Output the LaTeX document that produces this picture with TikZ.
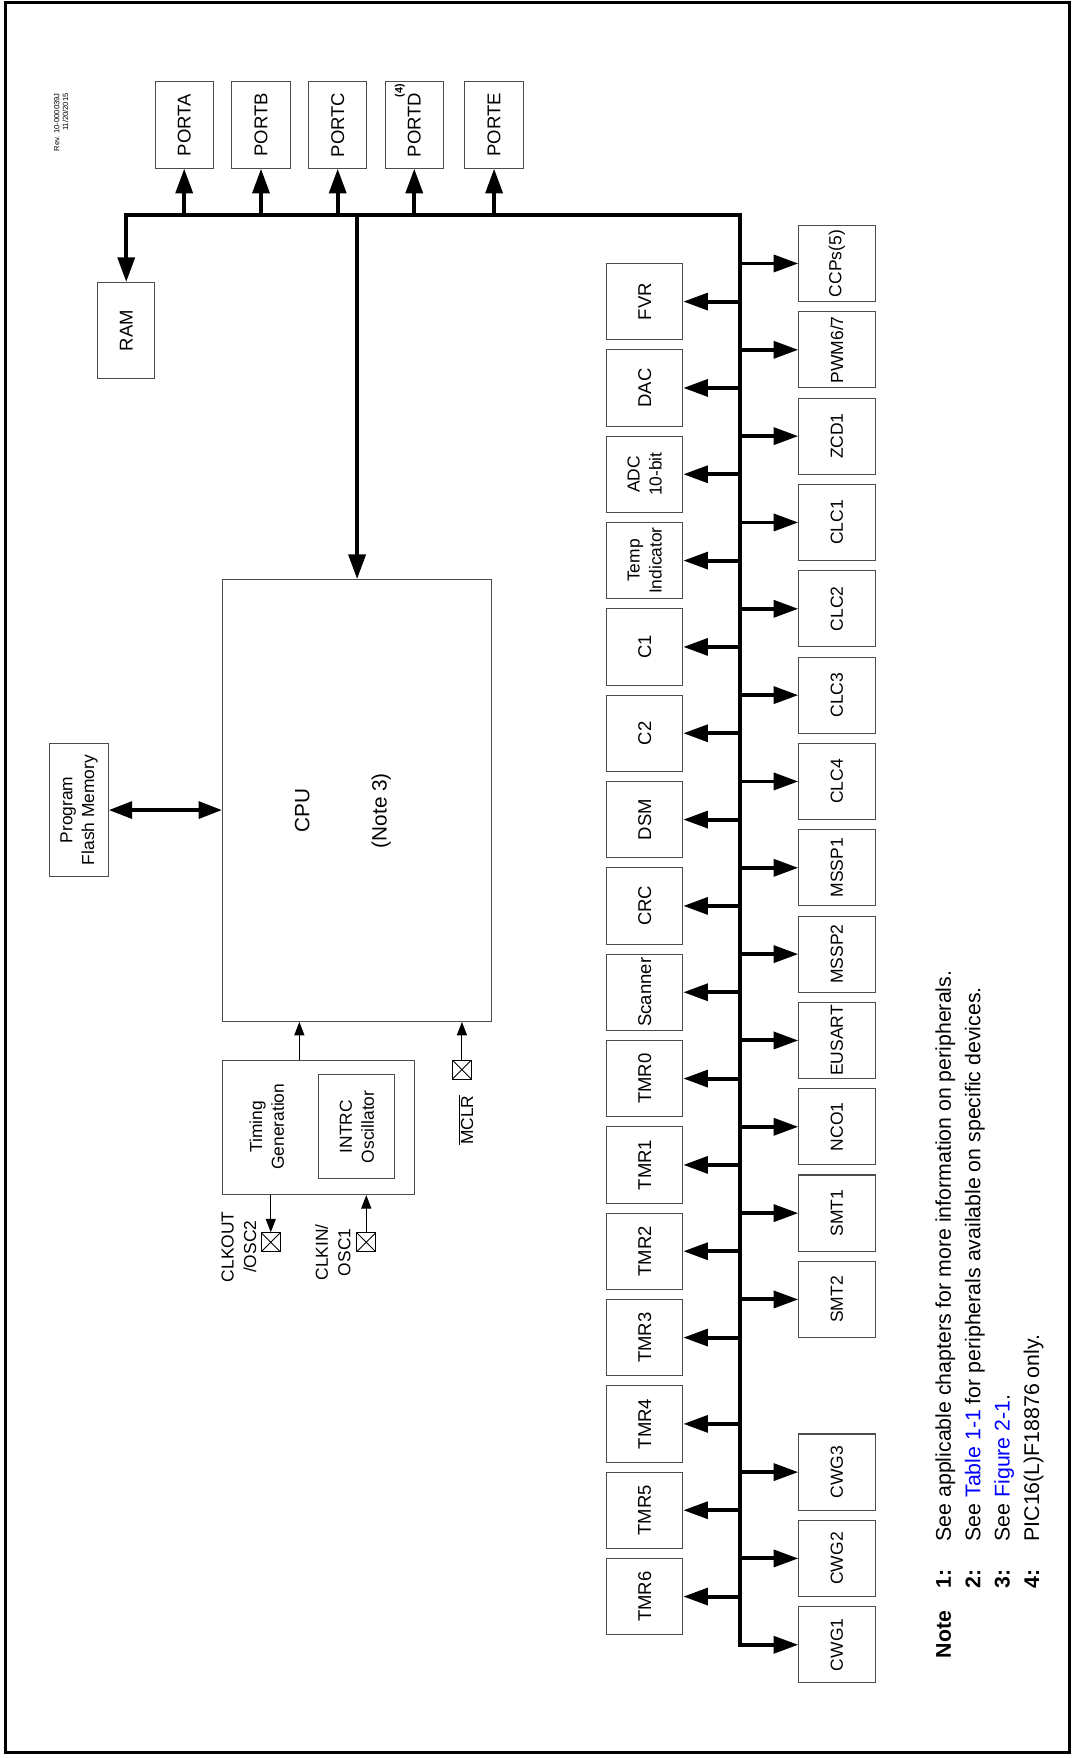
\documentclass[tikz,border=0pt]{standalone}
\usepackage{fontspec}
\setmainfont{Liberation Sans}
\usetikzlibrary{arrows.meta, positioning}
\tikzstyle{box} = [draw=black!70, line width=0.9pt, inner sep=0pt]
\tikzstyle{block} = [box, rotate=90, font=\fontsize{16.5}{19.5}\selectfont]
\tikzstyle{port} = [block, minimum width=77pt, minimum height=52pt]
\tikzstyle{periph} = [block, minimum width=68pt, minimum height=68pt]
\tikzstyle{periphright} = [periph, font=\fontsize{15.6}{19.5}\selectfont]
\tikzstyle{twoline} = [block, align=center, font=\fontsize{15.5}{19.5}\selectfont]
\tikzstyle{vtext} = [rotate=90, align=center, inner sep=0pt, font=\fontsize{15.5}{20}\selectfont]
\tikzstyle{bus} = [line width=3.5pt]
\tikzstyle{busarrow} = [bus, -{Triangle[length=22pt, width=15pt]}]
\tikzstyle{sigline} = [line width=1pt, -{Triangle[length=12pt, width=9pt]}]
\tikzstyle{pinbox} = [draw, line width=0.8pt, minimum size=17pt, inner sep=0pt,
                      path picture={\draw[line width=0.8pt] (path picture bounding box.north west) -- (path picture bounding box.south east)
                                    (path picture bounding box.south west) -- (path picture bounding box.north east);}]
\tikzstyle{note} = [rotate=90, anchor=base west, inner sep=0pt, font=\fontsize{19}{23}\selectfont]
\tikzstyle{notebold} = [note, font=\fontsize{19}{23}\selectfont\bfseries]

\begin{document}
\begin{tikzpicture}[x=1pt, y=-1pt]
					\useasboundingbox (0, 0) rectangle (958, 1568);
					\draw[line width=2.5pt] (5, 2) rectangle (954, 1563);

					\node (Rev) [rotate=90, anchor=east, align=right, inner sep=0pt, font=\fontsize{6.8}{7.8}\selectfont] at (54.5, 83) {Rev. 10-000039J\\11/20/2015};

					\coordinate (BusCorner) at (660, 192);

					\node (PortA) [port] at (164.3, 111.5) {PORTA};
					\draw[busarrow] (PortA |- BusCorner) -- (PortA);
					\node (PortB) [port] at (232.8, 111.5) {PORTB};
					\draw[busarrow] (PortB |- BusCorner) -- (PortB);
					\node (PortC) [port] at (301.2, 111.5) {PORTC};
					\draw[busarrow] (PortC |- BusCorner) -- (PortC);
					\node (PortD) [port] at (369.5, 111.5) {PORTD\rlap{\smash{\kern-4pt\raisebox{16pt}{\fontsize{9.5}{10}\selectfont\bfseries (4)}}}};
					\draw[busarrow] (PortD |- BusCorner) -- (PortD);
					\node (PortE) [port] at (440.7, 111.5) {PORTE};
					\draw[busarrow] (PortE |- BusCorner) -- (PortE);

					\node (Ram) [block, minimum width=86pt, minimum height=51pt] at (112.6, 295) {RAM};

					\node (Cpu) [box, minimum width=240pt, minimum height=394pt] at (318.5, 714) {};
					\node (CpuText) [vtext, font=\fontsize{18.5}{22}\selectfont] at (269.5, 723) {CPU};
					\node (CpuNote) [vtext, font=\fontsize{18.5}{22}\selectfont] at (340, 723) {(Note 3)};
					\draw[busarrow] (Cpu |- BusCorner) -- (Cpu);

					\node (Flash) [twoline, minimum width=119pt, minimum height=52pt] at (70.5, 722.5) {Program\\Flash Memory};
					\draw[bus, {Triangle[length=21pt, width=15pt]}-{Triangle[length=21pt, width=15pt]}] (Flash) -- (Flash -| Cpu.west);

					\node (Timing) [box, minimum width=171pt, minimum height=120pt] at (284, 1005.5) {};
					\node (TimingText) [vtext, font=\fontsize{15.5}{19.5}\selectfont] at (238, 1005) {Timing\\Generation};
					\node (Intrc) [twoline, minimum width=93pt, minimum height=68pt] at (318.3, 1005) {INTRC\\Oscillator};
					\coordinate (ClkTap) at (267, 945.5);
					\draw[sigline] (ClkTap) -- (ClkTap |- Cpu.south);

					\node (McPin) [pinbox] at (412, 954) {};
					\draw[sigline] (McPin) -- (McPin |- Cpu.south);
					\node (McText) [vtext, anchor=base] at (422, 999) {$\overline{\mbox{MCLR}}$};

					\node (ClkOutPin) [pinbox] at (241.5, 1108) {};
					\draw[sigline] (ClkOutPin |- Timing.south) -- (ClkOutPin);
					\node (ClkOutText) [vtext] at (213, 1112) {CLKOUT\\/OSC2};

					\node (ClkInPin) [pinbox] at (326.7, 1108) {};
					\draw[sigline] (ClkInPin) -- (ClkInPin |- Timing.south);
					\node (ClkInText) [vtext] at (297, 1117) {CLKIN/\\OSC1};

					\node (Cwg1) [periphright] at (746.5, 1467) {CWG1};
					\draw[bus, {Triangle[length=22pt, width=15pt]}-{Triangle[length=22pt, width=15pt]}] (Ram) |- (BusCorner) |- (Cwg1);

					\node (Fvr) [periph] at (575, 269) {FVR};
					\draw[busarrow] (Fvr -| BusCorner) -- (Fvr);
					\node (Dac) [periph] at (575, 346) {DAC};
					\draw[busarrow] (Dac -| BusCorner) -- (Dac);
					\node (Adc) [periph, align=center, font=\fontsize{15.5}{19.5}\selectfont] at (575, 423) {ADC\\10-bit};
					\draw[busarrow] (Adc -| BusCorner) -- (Adc);
					\node (Temp) [periph, align=center, font=\fontsize{15.5}{19.5}\selectfont] at (575, 500) {Temp\\Indicator};
					\draw[busarrow] (Temp -| BusCorner) -- (Temp);
					\node (Comp1) [periph] at (575, 577) {C1};
					\draw[busarrow] (Comp1 -| BusCorner) -- (Comp1);
					\node (Comp2) [periph] at (575, 654) {C2};
					\draw[busarrow] (Comp2 -| BusCorner) -- (Comp2);
					\node (Dsm) [periph] at (575, 731) {DSM};
					\draw[busarrow] (Dsm -| BusCorner) -- (Dsm);
					\node (Crc) [periph] at (575, 808) {CRC};
					\draw[busarrow] (Crc -| BusCorner) -- (Crc);
					\node (Scanner) [periph] at (575, 885) {Scanner};
					\draw[busarrow] (Scanner -| BusCorner) -- (Scanner);
					\node (Tmr0) [periph] at (575, 962) {TMR0};
					\draw[busarrow] (Tmr0 -| BusCorner) -- (Tmr0);
					\node (Tmr1) [periph] at (575, 1039) {TMR1};
					\draw[busarrow] (Tmr1 -| BusCorner) -- (Tmr1);
					\node (Tmr2) [periph] at (575, 1116) {TMR2};
					\draw[busarrow] (Tmr2 -| BusCorner) -- (Tmr2);
					\node (Tmr3) [periph] at (575, 1193) {TMR3};
					\draw[busarrow] (Tmr3 -| BusCorner) -- (Tmr3);
					\node (Tmr4) [periph] at (575, 1270) {TMR4};
					\draw[busarrow] (Tmr4 -| BusCorner) -- (Tmr4);
					\node (Tmr5) [periph] at (575, 1347) {TMR5};
					\draw[busarrow] (Tmr5 -| BusCorner) -- (Tmr5);
					\node (Tmr6) [periph] at (575, 1424) {TMR6};
					\draw[busarrow] (Tmr6 -| BusCorner) -- (Tmr6);

					\node (Ccp) [periphright] at (746.5, 235) {CCPs(5)};
					\draw[busarrow] (Ccp -| BusCorner) -- (Ccp);
					\node (Pwm) [periphright] at (746.5, 312) {PWM6/7};
					\draw[busarrow] (Pwm -| BusCorner) -- (Pwm);
					\node (Zcd) [periphright] at (746.5, 389) {ZCD1};
					\draw[busarrow] (Zcd -| BusCorner) -- (Zcd);
					\node (Clc1) [periphright] at (746.5, 466) {CLC1};
					\draw[busarrow] (Clc1 -| BusCorner) -- (Clc1);
					\node (Clc2) [periphright] at (746.5, 543) {CLC2};
					\draw[busarrow] (Clc2 -| BusCorner) -- (Clc2);
					\node (Clc3) [periphright] at (746.5, 620) {CLC3};
					\draw[busarrow] (Clc3 -| BusCorner) -- (Clc3);
					\node (Clc4) [periphright] at (746.5, 697) {CLC4};
					\draw[busarrow] (Clc4 -| BusCorner) -- (Clc4);
					\node (Mssp1) [periphright] at (746.5, 774) {MSSP1};
					\draw[busarrow] (Mssp1 -| BusCorner) -- (Mssp1);
					\node (Mssp2) [periphright] at (746.5, 851) {MSSP2};
					\draw[busarrow] (Mssp2 -| BusCorner) -- (Mssp2);
					\node (Eusart) [periphright] at (746.5, 928) {EUSART};
					\draw[busarrow] (Eusart -| BusCorner) -- (Eusart);
					\node (Nco) [periphright] at (746.5, 1005) {NCO1};
					\draw[busarrow] (Nco -| BusCorner) -- (Nco);
					\node (Smt1) [periphright] at (746.5, 1082) {SMT1};
					\draw[busarrow] (Smt1 -| BusCorner) -- (Smt1);
					\node (Smt2) [periphright] at (746.5, 1159) {SMT2};
					\draw[busarrow] (Smt2 -| BusCorner) -- (Smt2);
					\node (Cwg3) [periphright] at (746.5, 1313) {CWG3};
					\draw[busarrow] (Cwg3 -| BusCorner) -- (Cwg3);
					\node (Cwg2) [periphright] at (746.5, 1390) {CWG2};
					\draw[busarrow] (Cwg2 -| BusCorner) -- (Cwg2);

					\node (NoteHead) [notebold] at (848, 1479) {Note};
					\node (NoteOne) [notebold] at (848, 1417) {1:};
					\node (NoteOneText) [note] at (848, 1375) {See applicable chapters for more information on peripherals.};
					\node (NoteTwo) [notebold] at (874.3, 1417) {2:};
					\node (NoteTwoText) [note] at (874.3, 1375) {See \textcolor{blue}{Table 1-1} for peripherals available on specific devices.};
					\node (NoteThree) [notebold] at (900.6, 1417) {3:};
					\node (NoteThreeText) [note] at (900.6, 1375) {See \textcolor{blue}{Figure 2-1}.};
					\node (NoteFour) [notebold] at (926.9, 1417) {4:};
					\node (NoteFourText) [note] at (926.9, 1375) {PIC16(L)F18876 only.};
				\end{tikzpicture}
\end{document}
